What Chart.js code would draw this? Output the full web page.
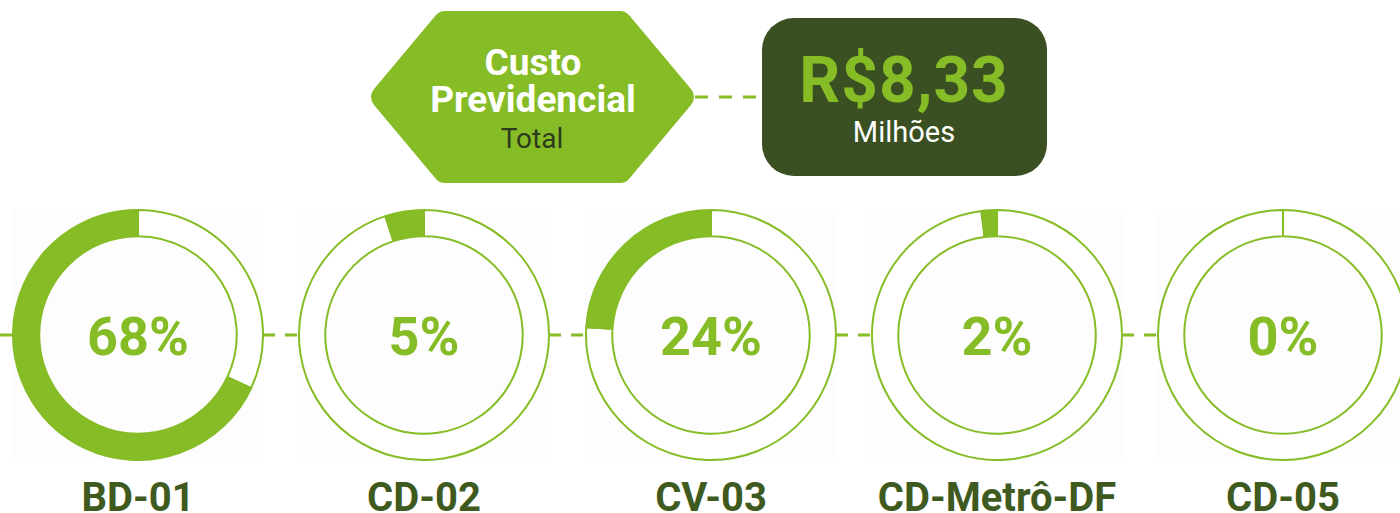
<!DOCTYPE html>
<html lang="pt-BR">
<head>
<meta charset="utf-8">
<title>Custo Previdencial</title>
<script src="https://cdn.jsdelivr.net/npm/chart.js@4.4.0/dist/chart.umd.min.js"></script>
<style>
  html, body { margin: 0; padding: 0; background: #ffffff; }
  body { width: 1400px; height: 513px; position: relative; overflow: hidden; font-family: Roboto, "Noto Sans", sans-serif; }
  .layer { position: absolute; left: 0; top: 0; }
  .txt { position: absolute; white-space: nowrap; text-align: center; transform: translateX(-50%); }
  .donut { position: absolute; width: 252px; height: 252px; background: #fdfdfd; }
  .plan { font-weight: 700; font-size: 40px; line-height: 40px; color: #3f5a1e; }
</style>
</head>
<body>

<svg class="layer" width="1400" height="513" id="shapes">
  <!-- hexágono do custo total -->
  <path d="M 383 97 L 445 23 L 620 23 L 682 97 L 620 171 L 445 171 Z"
        fill="#86bc25" stroke="#86bc25" stroke-width="24" stroke-linejoin="round"/>
  <rect x="762" y="18" width="285" height="158" rx="32" ry="32" fill="#3a5022"/>
  <line x1="695" y1="97" x2="762" y2="97" stroke="#86bc25" stroke-width="3" stroke-dasharray="13 11"/>
</svg>

<div class="txt" style="left:533px; top:44px; font-weight:700; font-size:37px; line-height:37px; color:#ffffff;">Custo</div>
<div class="txt" style="left:533px; top:81px; font-weight:700; font-size:37px; line-height:37px; color:#ffffff;">Previdencial</div>
<div class="txt" style="left:532px; top:125px; font-weight:400; font-size:28px; line-height:28px; color:#2e3a1d;">Total</div>
<div class="txt" style="left:904px; top:49px; font-weight:700; font-size:64px; line-height:64px; letter-spacing:1px; color:#86bc25;">R$8,33</div>
<div class="txt" style="left:904px; top:118px; font-weight:400; font-size:29px; line-height:29px; color:#ffffff;">Milhões</div>

<div id="donuts"></div>

<script>
// Participação de cada plano no custo previdencial total (%)
const planos = ['BD-01', 'CD-02', 'CV-03', 'CD-Metrô-DF', 'CD-05'];
const percentuais = [68, 5, 24, 2, 0];

const VERDE = '#86bc25';
const centrosX = [138, 424, 711, 997, 1283];
const CENTRO_Y = 335;
const RAIO = 126;

// texto do percentual no meio da rosca
const centerText = {
  id: 'centerText',
  afterDraw(chart) {
    const meta = chart.getDatasetMeta(0);
    const arc = meta.data[0];
    if (!arc) return;
    const value = chart.data.datasets[0].data[1];
    const ctx = chart.ctx;
    ctx.save();
    ctx.font = '700 54px Roboto';
    ctx.fillStyle = VERDE;
    ctx.textAlign = 'center';
    ctx.textBaseline = 'alphabetic';
    ctx.fillText(value + '%', arc.x, arc.y + 20);
    ctx.restore();
  }
};

// linhas tracejadas ligando as roscas
const shapes = document.getElementById('shapes');
function dashedLine(x1, x2, y) {
  const line = document.createElementNS('http://www.w3.org/2000/svg', 'line');
  line.setAttribute('x1', x1);
  line.setAttribute('x2', x2);
  line.setAttribute('y1', y);
  line.setAttribute('y2', y);
  line.setAttribute('stroke', VERDE);
  line.setAttribute('stroke-width', 3);
  line.setAttribute('stroke-dasharray', '12 10');
  shapes.appendChild(line);
}

const container = document.getElementById('donuts');

planos.forEach((plano, i) => {
  const cx = centrosX[i];

  const box = document.createElement('div');
  box.className = 'donut';
  box.style.left = (cx - RAIO) + 'px';
  box.style.top = (CENTRO_Y - RAIO) + 'px';
  const canvas = document.createElement('canvas');
  canvas.width = 252;
  canvas.height = 252;
  box.appendChild(canvas);
  container.appendChild(box);

  const label = document.createElement('div');
  label.className = 'txt plan';
  label.style.left = cx + 'px';
  label.style.top = '478px';
  label.textContent = plano;
  container.appendChild(label);

  if (i < planos.length - 1) {
    dashedLine(cx + 125, centrosX[i + 1] - 124, CENTRO_Y);
  }

  const p = percentuais[i];
  new Chart(canvas, {
    type: 'doughnut',
    data: {
      labels: ['Demais planos', plano],
      datasets: [{
        data: [100 - p, p],
        backgroundColor: ['#ffffff', VERDE],
        borderColor: VERDE,
        borderWidth: 2
      }]
    },
    options: {
      responsive: false,
      animation: false,
      events: [],
      cutout: '79%',
      layout: { padding: 0 },
      plugins: {
        legend: { display: false },
        tooltip: { enabled: false }
      }
    },
    plugins: [centerText]
  });
});

dashedLine(0, 13, CENTRO_Y);
</script>
</body>
</html>
